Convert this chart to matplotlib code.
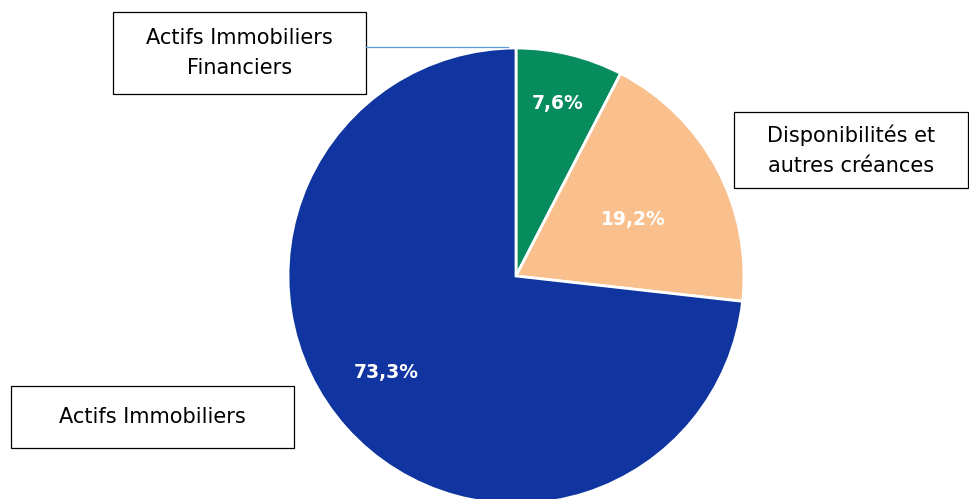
import matplotlib.pyplot as plt
from matplotlib.patches import Rectangle
import numpy as np

categories = ['Actifs Immobiliers Financiers', 'Disponibilités et autres créances', 'Actifs Immobiliers']
values = [7.6, 19.2, 73.3]
pct_labels = ['7,6%', '19,2%', '73,3%']
box_labels = ['Actifs Immobiliers\nFinanciers', 'Disponibilités et\nautres créances', 'Actifs Immobiliers']
colors = ['#078C5E', '#F9C08E', '#1035A0']

W, H = 969, 499
fig = plt.figure(figsize=(W / 100, H / 100), dpi=100)
ax = fig.add_axes([0, 0, 1, 1])

cx, cy, r = 516, H - 276, 228
wedges, _ = ax.pie(values, colors=colors, startangle=90, counterclock=False,
                   center=(cx, cy), radius=r, frame=True,
                   wedgeprops=dict(edgecolor='white', linewidth=2.0))
ax.set_xlim(0, W)
ax.set_ylim(0, H)
ax.set_aspect('equal')
ax.axis('off')

# percentage labels inside slices
dist = [0.78, 0.57, 0.71]
shift = [0, -2.5, -5]
for w, txt, d, s in zip(wedges, pct_labels, dist, shift):
    ang = np.deg2rad((w.theta1 + w.theta2) / 2 + s)
    ax.text(cx + d * r * np.cos(ang), cy + d * r * np.sin(ang), txt,
            ha='center', va='center', color='white', fontsize=13.5,
            fontweight='bold', family='DejaVu Sans')

# label boxes
boxes = [(113, 12, 366, 94), (734, 112, 968, 188), (11, 386, 294, 448)]
for (x0, y0, x1, y1), lab in zip(boxes, box_labels):
    ax.add_patch(Rectangle((x0, H - y1), x1 - x0, y1 - y0, facecolor='white',
                           edgecolor='black', linewidth=0.9))
    ax.text((x0 + x1) / 2, H - (y0 + y1) / 2, lab, ha='center', va='center',
            fontsize=15, linespacing=1.65, family='DejaVu Sans')

# leader line for the small slice
ax.plot([366, 508], [H - 47, H - 47], color='#5B9BD5', linewidth=0.9)

fig.savefig('out.png', dpi=100)
